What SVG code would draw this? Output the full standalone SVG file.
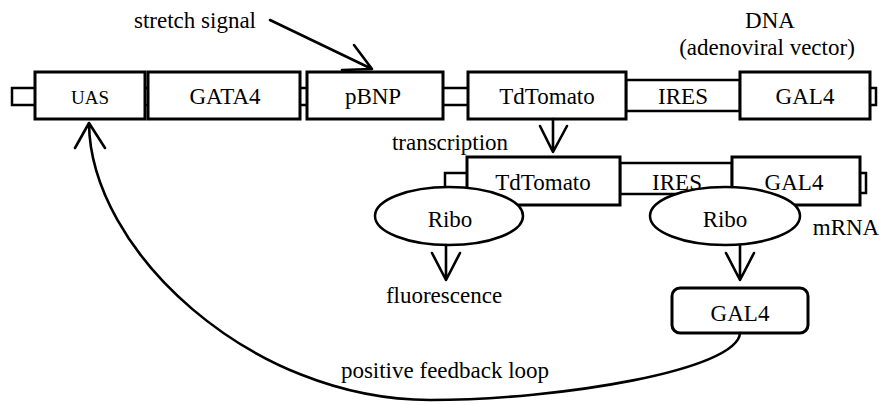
<svg xmlns="http://www.w3.org/2000/svg" width="894" height="405" viewBox="0 0 894 405">
<style>
.box{fill:#fff;stroke:#000;stroke-width:3}
.thin{fill:#fff;stroke:#000;stroke-width:2.5}
.ln{fill:none;stroke:#000;stroke-width:2.6;stroke-linecap:round;stroke-linejoin:round}
.t{font-family:'Liberation Serif','DejaVu Serif',serif;font-size:23px;fill:#000;text-anchor:middle}
</style>
<rect width="894" height="405" fill="#fff"/>
<g id="dna" class="t" font-family="Liberation Serif, DejaVu Serif, serif">
<rect class="thin" x="12" y="88" width="864" height="17"/>
<rect class="thin" x="626" y="80" width="114" height="31"/>
<g id="uas"><rect class="box" x="35" y="72" width="110" height="47"/><text x="90" y="104" font-size="19">UAS</text></g>
<g id="gata4"><rect class="box" x="148" y="72" width="152" height="47"/><text x="225" y="104">GATA4</text></g>
<g id="pbnp"><rect class="box" x="307" y="72" width="136" height="47"/><text x="373" y="104">pBNP</text></g>
<g id="tdtomato"><rect class="box" x="468" y="72" width="158" height="47"/><text x="547" y="104">TdTomato</text></g>
<g id="ires"><text x="683" y="104">IRES</text></g>
<g id="gal4"><rect class="box" x="740" y="72" width="130" height="47"/><text x="805" y="104">GAL4</text></g>
</g>
<g id="labels-top" class="t" font-family="Liberation Serif, DejaVu Serif, serif">
<text x="770" y="28">DNA</text>
<text x="767" y="55">(adenoviral vector)</text>
<text x="195" y="28">stretch signal</text>
<text x="450" y="150">transcription</text>
</g>
<g id="mrna" class="t" font-family="Liberation Serif, DejaVu Serif, serif">
<rect class="thin" x="445" y="173" width="421" height="20"/>
<rect class="thin" x="620" y="163" width="112" height="31"/>
<g id="m-tdtomato"><rect class="box" x="467" y="157" width="153" height="48"/><text x="543" y="190">TdTomato</text></g>
<g id="m-ires"><text x="677" y="190">IRES</text></g>
<g id="m-gal4"><rect class="box" x="732" y="157" width="128" height="48"/><text x="794" y="190">GAL4</text></g>
<text x="846" y="235">mRNA</text>
</g>
<g id="ribo1" class="t" font-family="Liberation Serif, DejaVu Serif, serif"><ellipse class="thin" cx="449" cy="216" rx="74" ry="29"/><text x="450" y="227">Ribo</text></g>
<g id="ribo2" class="t" font-family="Liberation Serif, DejaVu Serif, serif"><ellipse class="thin" cx="725" cy="216" rx="75" ry="29"/><text x="725" y="227">Ribo</text></g>
<g id="fluor" class="t" font-family="Liberation Serif, DejaVu Serif, serif"><text x="444" y="303">fluorescence</text></g>
<g id="gal4-protein" class="t" font-family="Liberation Serif, DejaVu Serif, serif"><rect class="box" x="672" y="288" width="136" height="45" rx="8"/><text x="740" y="321">GAL4</text></g>
<g id="connectors">
<path class="ln" d="M270 20 L372 69 M354 45 L372 69 L342 70"/>
<path class="ln" d="M553 119 V152 M540 126 L553 152 L567 126"/>
<path class="ln" d="M446 245 V280 M432 253 L446 280 L460 253"/>
<path class="ln" d="M740 245 V280 M726 253 L740 280 L754 253"/>
<path class="ln" d="M740 333 C738 370 560 400 430 400 C250 400 90 250 89 123 M75 148 L89 123 L105 148"/>
</g>
<g id="feedback-label" class="t" font-family="Liberation Serif, DejaVu Serif, serif"><text x="445" y="378">positive feedback loop</text></g>
</svg>
